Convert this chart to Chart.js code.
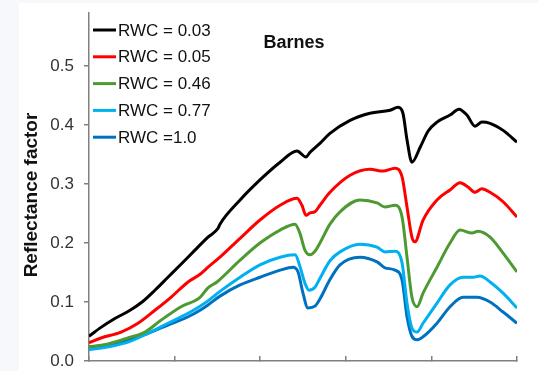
<!DOCTYPE html>
<html>
<head>
<meta charset="utf-8">
<script src="https://cdn.jsdelivr.net/npm/chart.js@4.4.0/dist/chart.umd.min.js"></script>
<style>
body { margin:0; background:#f6f8fb; width:539px; height:371px; overflow:hidden; }
#wrap { position:absolute; left:19px; top:3px; width:520px; height:368px; background:#fff; }
</style>
</head>
<body>
<div id="wrap"><canvas id="myChart" width="520" height="368"></canvas></div>
<script>
'use strict';
let chartTitle = 'Barnes';
let yTitle = 'Reflectance factor';
let seriesLabels = ['RWC = 0.03', 'RWC = 0.05', 'RWC = 0.46', 'RWC = 0.77', 'RWC =1.0'];
let seriesColors = ['#000000', '#ff0000', '#4e9a32', '#00b0f0', '#0070c0'];
let yTicks = [0, 0.1, 0.2, 0.3, 0.4, 0.5];

// wavelength (nm) / reflectance pairs
let wl003 = [400,456,521,592,648,708,769,830,895,956,1003,1012,1106,1199,1293,1372,1414,1433,1479,1526,1620,1713,1807,1844,1867,1886,1909,1947,1985,2026,2087,2129,2166,2204,2236,2274,2335,2400];
let rf003 = [0.042,0.057,0.072,0.086,0.100,0.120,0.142,0.164,0.188,0.210,0.225,0.232,0.273,0.307,0.337,0.356,0.346,0.354,0.369,0.386,0.408,0.420,0.425,0.430,0.420,0.375,0.337,0.362,0.390,0.405,0.417,0.427,0.417,0.398,0.405,0.403,0.391,0.371];

let wl005 = [400,456,550,629,708,783,863,919,956,1012,1106,1199,1293,1372,1395,1414,1433,1456,1479,1526,1620,1713,1774,1830,1863,1886,1909,1923,1961,2026,2087,2134,2171,2204,2236,2274,2335,2400];
let rf005 = [0.031,0.039,0.049,0.064,0.086,0.108,0.134,0.147,0.159,0.176,0.208,0.239,0.264,0.276,0.264,0.247,0.251,0.253,0.264,0.286,0.315,0.325,0.322,0.327,0.312,0.261,0.210,0.202,0.239,0.273,0.290,0.302,0.295,0.286,0.292,0.286,0.270,0.244];

let wl046 = [400,489,582,662,736,830,919,956,998,1106,1199,1293,1363,1386,1409,1433,1456,1479,1526,1573,1666,1746,1783,1830,1863,1886,1909,1933,1961,2026,2087,2134,2190,2218,2274,2335,2400];
let rf046 = [0.024,0.029,0.039,0.049,0.069,0.092,0.108,0.124,0.134,0.171,0.200,0.222,0.232,0.216,0.188,0.180,0.186,0.200,0.232,0.253,0.273,0.268,0.261,0.264,0.244,0.176,0.108,0.092,0.115,0.159,0.200,0.222,0.217,0.220,0.210,0.183,0.151];

let wl077 = [400,489,582,676,769,863,919,956,1012,1106,1199,1293,1363,1386,1409,1428,1456,1479,1526,1573,1666,1746,1783,1830,1863,1886,1909,1933,1961,2026,2087,2148,2195,2227,2274,2335,2400];
let rf077 = [0.019,0.024,0.032,0.047,0.064,0.081,0.093,0.102,0.118,0.142,0.163,0.176,0.180,0.160,0.132,0.120,0.125,0.140,0.170,0.185,0.198,0.193,0.185,0.186,0.166,0.098,0.056,0.049,0.064,0.098,0.129,0.142,0.142,0.144,0.134,0.115,0.090];

let wl10 = [400,489,582,676,769,863,919,956,1012,1106,1199,1293,1353,1377,1400,1423,1456,1479,1526,1573,1666,1746,1783,1830,1863,1886,1909,1933,1961,2026,2087,2148,2213,2274,2335,2400];
let rf10 = [0.024,0.027,0.036,0.047,0.061,0.075,0.086,0.095,0.110,0.129,0.142,0.154,0.159,0.151,0.115,0.090,0.093,0.105,0.138,0.163,0.176,0.168,0.158,0.154,0.137,0.075,0.042,0.036,0.041,0.064,0.092,0.108,0.108,0.100,0.083,0.064];

let allWl = [wl003, wl005, wl046, wl077, wl10];
let allRf = [rf003, rf005, rf046, rf077, rf10];

let datasets = [];
for (let i = 0; i < seriesLabels.length; i++) {
    datasets.push({
        label: seriesLabels[i],
        data: allWl[i].map((w, j) => ({ x: w, y: allRf[i][j] })),
        borderColor: seriesColors[i],
        backgroundColor: seriesColors[i],
        borderWidth: 3,
        pointRadius: 0,
        cubicInterpolationMode: 'monotone',
        fill: false
    });
}

const font = '"Liberation Sans", Arial, sans-serif';

// title, y label and in-plot legend
const decor = {
    id: 'decor',
    afterDraw(chart) {
        const ctx = chart.ctx;
        ctx.save();
        ctx.fillStyle = '#111';
        ctx.font = 'bold 18px ' + font;
        ctx.textAlign = 'center';
        ctx.textBaseline = 'middle';
        ctx.fillText(chartTitle, 275, 40);

        ctx.save();
        ctx.translate(13, 192);
        ctx.rotate(-Math.PI / 2);
        ctx.font = 'bold 19px ' + font;
        ctx.fillText(yTitle, 0, 0);
        ctx.restore();

        ctx.font = '17px ' + font;
        ctx.textAlign = 'left';
        chart.data.datasets.forEach((ds, i) => {
            let y = 27 + i * 26.8;
            ctx.strokeStyle = ds.borderColor;
            ctx.lineWidth = 3;
            ctx.beginPath();
            ctx.moveTo(74, y);
            ctx.lineTo(97, y);
            ctx.stroke();
            ctx.fillStyle = '#111';
            ctx.fillText(ds.label, 99, y + 1);
        });
        ctx.restore();
    }
};

var ctx = document.getElementById('myChart').getContext('2d');
var myChart = new Chart(ctx, {
    type: 'line',
    data: { datasets: datasets },
    options: {
        responsive: false,
        animation: false,
        layout: { padding: { left: 0, right: 22, top: 10, bottom: 0 } },
        plugins: { legend: { display: false }, tooltip: { enabled: false } },
        scales: {
            x: {
                type: 'linear',
                min: 400,
                max: 2400,
                ticks: { display: false, stepSize: 400 },
                grid: { drawOnChartArea: false, drawTicks: true, tickLength: -5, color: '#808080', lineWidth: 1.5 },
                border: { color: '#808080', width: 1.5 },
                afterFit(scale) { scale.height = 10; scale.paddingLeft = 0; scale.paddingRight = 0; }
            },
            y: {
                min: 0,
                max: 0.59,
                ticks: {
                    stepSize: 0.1,
                    padding: 10,
                    color: '#333',
                    font: { family: font, size: 17 },
                    callback: v => v.toFixed(1)
                },
                afterBuildTicks(scale) {
                    scale.ticks = yTicks.map(v => ({ value: v }));
                },
                grid: { drawOnChartArea: false, drawTicks: true, tickLength: 5, color: '#808080', lineWidth: 1.5 },
                border: { color: '#808080', width: 1.5 },
                afterFit(scale) { scale.width = 70; scale.paddingTop = 0; scale.paddingBottom = 0; }
            }
        }
    },
    plugins: [decor]
});
</script>
</body>
</html>
